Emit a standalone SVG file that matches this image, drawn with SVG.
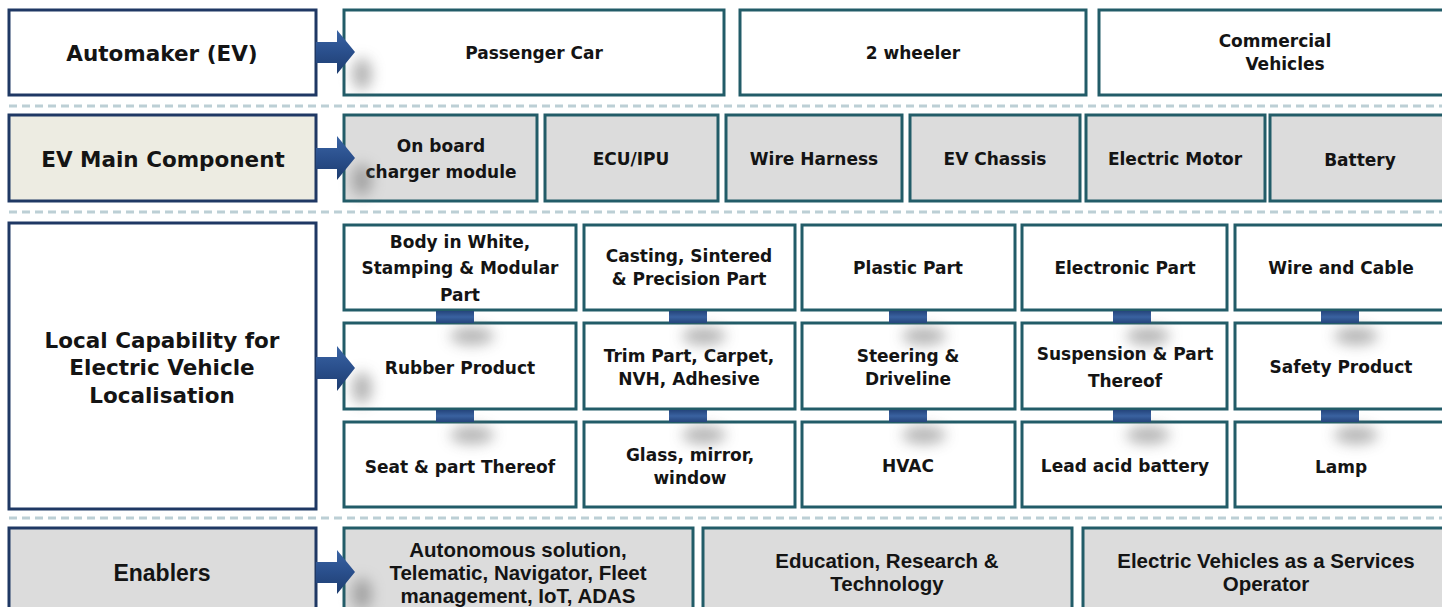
<svg xmlns="http://www.w3.org/2000/svg" width="1442" height="607" viewBox="0 0 1442 607">
<defs>
<style>
.hdr{stroke:#1f3864;stroke-width:3}
.box{stroke:#225c68;stroke-width:3}
.w{fill:#ffffff}
.g{fill:#dcdcdc}
.b{fill:#edece2}
.t{font-family:"DejaVu Sans",sans-serif;font-weight:bold;font-size:17px;fill:#141414;text-anchor:middle;dominant-baseline:central}
.th{font-size:21.5px}
.te{font-family:"Liberation Sans",Arial,sans-serif;font-size:20.5px}
.teh{font-size:23px}
.sep{stroke:#bccfd5;stroke-width:3;stroke-dasharray:8 5;fill:none}
.blk{fill:url(#bg)}
.arr{fill:url(#ag)}
.sh{fill:#6a6a6a;opacity:0.5;filter:url(#blur)}
</style>
<linearGradient id="ag" x1="0" y1="0" x2="0" y2="1">
<stop offset="0" stop-color="#3a64a4"/>
<stop offset="0.5" stop-color="#2a4f8c"/>
<stop offset="1" stop-color="#1d3c6e"/>
</linearGradient>
<linearGradient id="bg" x1="0" y1="0" x2="0" y2="1">
<stop offset="0" stop-color="#25457c"/>
<stop offset="0.5" stop-color="#3a62a0"/>
<stop offset="1" stop-color="#25457c"/>
</linearGradient>
<filter id="blur" x="-100%" y="-100%" width="300%" height="300%"><feGaussianBlur stdDeviation="7"/></filter>
</defs>
<rect width="1442" height="607" fill="#ffffff"/>

<g id="separators">
<line class="sep" x1="9" y1="106" x2="1442" y2="106"/>
<line class="sep" x1="9" y1="212" x2="1442" y2="212"/>
<line class="sep" x1="9" y1="518" x2="1442" y2="518"/>
</g>

<!-- Row 1 -->
<g id="automaker"><rect class="hdr w" x="9" y="10" width="307" height="85"/><text class="t th" x="162" y="53">Automaker (EV)</text></g>
<g id="passenger-car"><rect class="box w" x="344" y="10" width="380" height="85"/><text class="t" x="534" y="53">Passenger Car</text></g>
<g id="two-wheeler"><rect class="box w" x="740" y="10" width="346" height="85"/><text class="t" x="913" y="53">2 wheeler</text></g>
<g id="commercial-vehicles"><rect class="box w" x="1099" y="10" width="350" height="85"/><text class="t" x="1275" y="41">Commercial</text><text class="t" x="1285" y="64">Vehicles</text></g>

<!-- Row 2 -->
<g id="ev-main-component"><rect class="hdr b" x="9" y="115" width="307" height="86"/><text class="t th" x="163" y="159">EV Main Component</text></g>
<g id="on-board-charger"><rect class="box g" x="344" y="115" width="193" height="86"/><text class="t" x="441" y="146">On board</text><text class="t" x="441" y="172">charger module</text></g>
<g id="ecu-ipu"><rect class="box g" x="545" y="115" width="173" height="86"/><text class="t" x="631" y="159">ECU/IPU</text></g>
<g id="wire-harness"><rect class="box g" x="726" y="115" width="176" height="86"/><text class="t" x="814" y="159">Wire Harness</text></g>
<g id="ev-chassis"><rect class="box g" x="910" y="115" width="170" height="86"/><text class="t" x="995" y="159">EV Chassis</text></g>
<g id="electric-motor"><rect class="box g" x="1086" y="115" width="179" height="86"/><text class="t" x="1175" y="159">Electric Motor</text></g>
<g id="battery"><rect class="box g" x="1270" y="115" width="180" height="86"/><text class="t" x="1360" y="160">Battery</text></g>

<!-- Row 3 -->
<g id="local-capability"><rect class="hdr w" x="9" y="223" width="307" height="286"/><text class="t th" x="162" y="340">Local Capability for</text><text class="t th" x="162" y="367">Electric Vehicle</text><text class="t th" x="162" y="395">Localisation</text></g>

<g id="body-in-white"><rect class="box w" x="344" y="225" width="232" height="85"/><text class="t" x="460" y="242">Body in White,</text><text class="t" x="460" y="268">Stamping &amp; Modular</text><text class="t" x="460" y="295">Part</text></g>
<g id="casting"><rect class="box w" x="584" y="225" width="211" height="85"/><text class="t" x="689" y="256">Casting, Sintered</text><text class="t" x="689" y="279">&amp; Precision Part</text></g>
<g id="plastic-part"><rect class="box w" x="802" y="225" width="213" height="85"/><text class="t" x="908" y="268">Plastic Part</text></g>
<g id="electronic-part"><rect class="box w" x="1022" y="225" width="205" height="85"/><text class="t" x="1125" y="268">Electronic Part</text></g>
<g id="wire-and-cable"><rect class="box w" x="1235" y="225" width="215" height="85"/><text class="t" x="1341" y="268">Wire and Cable</text></g>

<g id="rubber-product"><rect class="box w" x="344" y="323" width="232" height="86"/><text class="t" x="460" y="368">Rubber Product</text></g>
<g id="trim-part"><rect class="box w" x="584" y="323" width="211" height="86"/><text class="t" x="689" y="356">Trim Part, Carpet,</text><text class="t" x="689" y="379">NVH, Adhesive</text></g>
<g id="steering"><rect class="box w" x="802" y="323" width="213" height="86"/><text class="t" x="908" y="356">Steering &amp;</text><text class="t" x="908" y="379">Driveline</text></g>
<g id="suspension"><rect class="box w" x="1022" y="323" width="205" height="86"/><text class="t" x="1125" y="354">Suspension &amp; Part</text><text class="t" x="1125" y="381">Thereof</text></g>
<g id="safety-product"><rect class="box w" x="1235" y="323" width="215" height="86"/><text class="t" x="1341" y="367">Safety Product</text></g>

<g id="seat"><rect class="box w" x="344" y="422" width="232" height="85"/><text class="t" x="460" y="467">Seat &amp; part Thereof</text></g>
<g id="glass"><rect class="box w" x="584" y="422" width="211" height="85"/><text class="t" x="690" y="455">Glass, mirror,</text><text class="t" x="690" y="478">window</text></g>
<g id="hvac"><rect class="box w" x="802" y="422" width="213" height="85"/><text class="t" x="908" y="466">HVAC</text></g>
<g id="lead-acid-battery"><rect class="box w" x="1022" y="422" width="205" height="85"/><text class="t" x="1125" y="466">Lead acid battery</text></g>
<g id="lamp"><rect class="box w" x="1235" y="422" width="215" height="85"/><text class="t" x="1341" y="467">Lamp</text></g>

<!-- Row 4 -->
<g id="enablers"><rect class="hdr g" x="9" y="528" width="307" height="90"/><text class="t te teh" x="162" y="573">Enablers</text></g>
<g id="autonomous"><rect class="box g" x="344" y="528" width="349" height="90"/><text class="t te" x="518" y="549">Autonomous solution,</text><text class="t te" x="518" y="572">Telematic, Navigator, Fleet</text><text class="t te" x="518" y="595">management, IoT, ADAS</text></g>
<g id="education"><rect class="box g" x="703" y="528" width="369" height="90"/><text class="t te" x="887" y="560">Education, Research &amp;</text><text class="t te" x="887" y="583">Technology</text></g>
<g id="evaas"><rect class="box g" x="1083" y="528" width="370" height="90"/><text class="t te" x="1266" y="560">Electric Vehicles as a Services</text><text class="t te" x="1266" y="583">Operator</text></g>

<g id="connectors">
<g id="shadows">
<ellipse class="sh" cx="362" cy="74" rx="10" ry="16"/>
<ellipse class="sh" cx="362" cy="180" rx="10" ry="16"/>
<ellipse class="sh" cx="362" cy="388" rx="10" ry="16"/>
<ellipse class="sh" cx="362" cy="594" rx="10" ry="16"/>
<ellipse class="sh" cx="472" cy="336" rx="22" ry="9"/>
<ellipse class="sh" cx="704" cy="336" rx="22" ry="9"/>
<ellipse class="sh" cx="924" cy="336" rx="22" ry="9"/>
<ellipse class="sh" cx="1148" cy="336" rx="22" ry="9"/>
<ellipse class="sh" cx="1356" cy="336" rx="22" ry="9"/>
<ellipse class="sh" cx="472" cy="435" rx="22" ry="9"/>
<ellipse class="sh" cx="704" cy="435" rx="22" ry="9"/>
<ellipse class="sh" cx="924" cy="435" rx="22" ry="9"/>
<ellipse class="sh" cx="1148" cy="435" rx="22" ry="9"/>
<ellipse class="sh" cx="1356" cy="435" rx="22" ry="9"/>
</g>
<rect class="blk" x="436" y="311" width="38" height="12"/>
<rect class="blk" x="669" y="311" width="38" height="12"/>
<rect class="blk" x="889" y="311" width="38" height="12"/>
<rect class="blk" x="1113" y="311" width="38" height="12"/>
<rect class="blk" x="1321" y="311" width="38" height="12"/>
<rect class="blk" x="436" y="410" width="38" height="12"/>
<rect class="blk" x="669" y="410" width="38" height="12"/>
<rect class="blk" x="889" y="410" width="38" height="12"/>
<rect class="blk" x="1113" y="410" width="38" height="12"/>
<rect class="blk" x="1321" y="410" width="38" height="12"/>
<path class="arr" d="M316,42 H337 V30 L355,52 L337,74 V63 H316 Z"/>
<path class="arr" d="M316,148 H337 V136 L355,158 L337,180 V169 H316 Z"/>
<path class="arr" d="M316,357 H337 V346 L355,368 L337,391 V379 H316 Z"/>
<path class="arr" d="M316,562 H337 V550 L355,572 L337,594 V583 H316 Z"/>
</g>
</svg>
